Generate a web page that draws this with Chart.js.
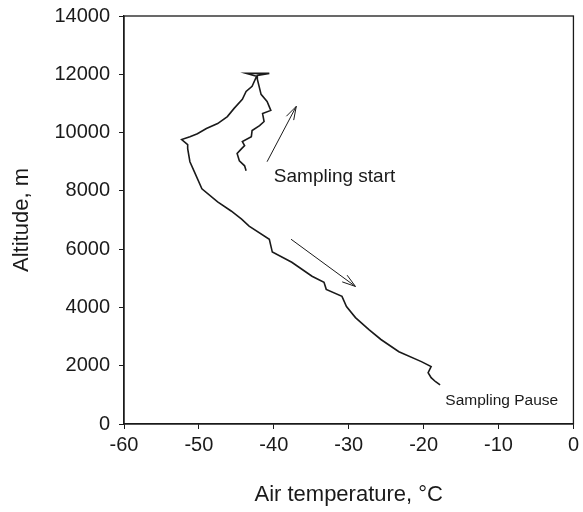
<!DOCTYPE html>
<html>
<head>
<meta charset="utf-8">
<script src="https://cdn.jsdelivr.net/npm/chart.js@4"></script>
<style>
  html, body { margin: 0; padding: 0; background: #fff; }
  #wrap { position: relative; width: 583px; height: 512px; }
</style>
</head>
<body>
<div id="wrap"><canvas id="profile"></canvas></div>
<script>
// Flight profile: starts at "Sampling start", climbs, then descends to "Sampling Pause"
const airTemp = [
  -43.7, -43.9, -44.6, -44.9, -44.3, -43.9, -44.2, -43.0, -42.9, -41.9, -41.3, -41.5, -40.4, -40.9, -41.7, -42.2, -42.2,
  -40.6, -43.7, -42.3,
  -42.9, -43.7, -44.2, -45.3, -46.2, -47.5, -49.0, -50.2, -51.2, -52.3, -51.5, -51.5, -51.2, -50.6, -49.6, -47.5, -45.7,
  -44.3, -43.3, -40.6, -40.2, -37.6, -34.9, -33.3, -33.0, -30.9, -30.3, -29.1, -27.3, -25.7, -23.3, -20.3, -19.0, -19.4,
  -19.0, -18.4, -17.8
];
const altitude = [
  8690, 8860, 9030, 9280, 9450, 9550, 9690, 9860, 10070, 10240, 10380, 10650, 10760, 11070, 11310, 11830, 11960,
  12030, 12030, 11930,
  11590, 11410, 11140, 10830, 10550, 10310, 10140, 9960, 9860, 9760, 9590, 9450, 9000, 8650, 8070, 7620, 7310,
  7030, 6790, 6340, 5900, 5550, 5070, 4860, 4620, 4380, 4030, 3650, 3240, 2900, 2480, 2140, 1970, 1760,
  1590, 1450, 1340
];
const xTicks = [-60, -50, -40, -30, -20, -10, 0];
const yTicks = [0, 2000, 4000, 6000, 8000, 10000, 12000, 14000];

// arrows [fromT, fromAlt, toT, toAlt] and labels [text, T, alt, size]
const arrows = [
  [-40.9, 9000, -37.0, 10900],
  [-37.7, 6340, -29.1, 4720]
];
const notes = [
  ['Sampling start', -40.0, 8480, 19],
  ['Sampling Pause', -17.1, 790, 15.5]
];

const ink = '#1a1a1a';
const fontFam = '"Liberation Sans", Arial, sans-serif';

const extras = {
  id: 'extras',
  afterDatasetsDraw(c) {
    const {ctx, chartArea: a} = c;
    const xs = c.scales.x, ys = c.scales.y;
    ctx.save();
    // frame around plot
    ctx.strokeStyle = ink;
    ctx.lineWidth = 1.3;
    ctx.strokeRect(a.left, a.top, a.right - a.left, a.bottom - a.top);
    // arrows
    ctx.lineWidth = 1;
    arrows.forEach(([t0, h0, t1, h1]) => {
      const x0 = xs.getPixelForValue(t0), y0 = ys.getPixelForValue(h0);
      const x1 = xs.getPixelForValue(t1), y1 = ys.getPixelForValue(h1);
      const ang = Math.atan2(y1 - y0, x1 - x0);
      ctx.beginPath();
      ctx.moveTo(x0, y0);
      ctx.lineTo(x1, y1);
      ctx.moveTo(x1 - 14 * Math.cos(ang - 0.3), y1 - 14 * Math.sin(ang - 0.3));
      ctx.lineTo(x1, y1);
      ctx.lineTo(x1 - 14 * Math.cos(ang + 0.3), y1 - 14 * Math.sin(ang + 0.3));
      ctx.stroke();
    });
    // labels
    ctx.fillStyle = ink;
    ctx.textBaseline = 'middle';
    ctx.textAlign = 'left';
    notes.forEach(([txt, t, h, size]) => {
      ctx.font = size + 'px ' + fontFam;
      ctx.fillText(txt, xs.getPixelForValue(t), ys.getPixelForValue(h));
    });
    ctx.restore();
  }
};

new Chart(document.getElementById('profile'), {
  type: 'scatter',
  data: {
    datasets: [{
      data: airTemp.map((t, i) => ({x: t, y: altitude[i]})),
      showLine: true,
      borderColor: ink,
      borderWidth: 1.6,
      pointRadius: 0,
      tension: 0,
    }],
  },
  options: {
    responsive: true,
    maintainAspectRatio: false,
    animation: false,
    layout: { padding: { top: 16, right: 7, left: 0, bottom: 0 } },
    plugins: { legend: { display: false }, tooltip: { enabled: false } },
    scales: {
      x: {
        type: 'linear',
        min: -60,
        max: 0,
        afterFit: (s) => { s.height = 88; },
        afterBuildTicks: (s) => { s.ticks = xTicks.map(v => ({value: v})); },
        grid: { drawOnChartArea: false, tickLength: 5, color: ink },
        border: { color: ink, width: 1.3 },
        ticks: { color: ink, padding: 4, font: { family: fontFam, size: 20 }, callback: (v) => String(v) },
        title: {
          display: true,
          text: 'Air temperature, °C',
          color: ink,
          padding: 4,
          font: { family: fontFam, size: 22 },
        },
      },
      y: {
        type: 'linear',
        min: 0,
        max: 14000,
        afterFit: (s) => { s.width = 124; s.paddingTop = 0; },
        afterBuildTicks: (s) => { s.ticks = yTicks.map(v => ({value: v})); },
        grid: { drawOnChartArea: false, tickLength: 5, color: ink },
        border: { color: ink, width: 1.3 },
        ticks: { color: ink, padding: 9, font: { family: fontFam, size: 20 }, callback: (v) => String(v) },
        title: {
          display: true,
          text: 'Altitude, m',
          color: ink,
          padding: 9,
          font: { family: fontFam, size: 22 },
        },
      },
    },
  },
  plugins: [extras],
});
</script>
</body>
</html>
